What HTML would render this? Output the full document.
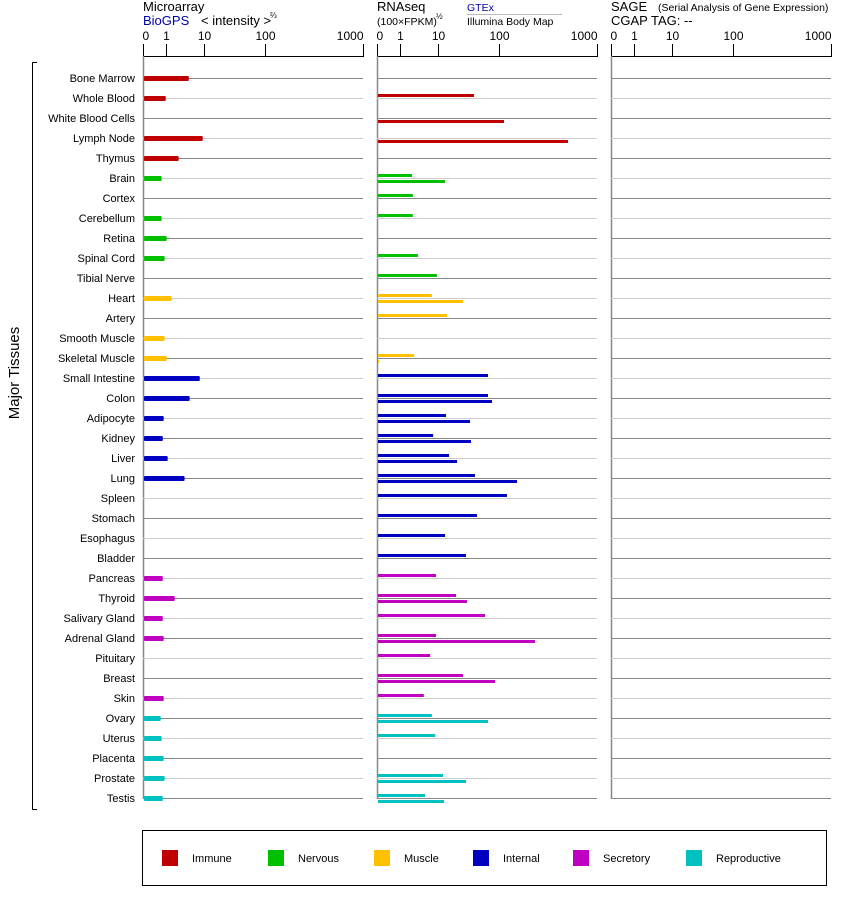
<!DOCTYPE html>
<html><head><meta charset="utf-8"><style>
body{margin:0;background:#fff;}
svg{display:block;font-family:"Liberation Sans",Arial,sans-serif;}
</style></head><body>
<svg id="chart" width="842" height="900" viewBox="0 0 842 900">
<g id="hdr">
<text x="143" y="11" font-size="13">Microarray</text>
<text x="143" y="25" font-size="13" fill="#0000aa">BioGPS</text>
<text x="201" y="25" font-size="13">&lt; intensity &gt;</text>
<text x="270" y="18" font-size="8">⅔</text>
<text x="377" y="11" font-size="13">RNAseq</text>
<text x="377" y="25" font-size="10.5">(100×FPKM)</text>
<text x="436" y="19" font-size="8">½</text>
<text x="467" y="11" font-size="10.5" fill="#0000aa">GTEx</text>
<line x1="467" y1="14.5" x2="562" y2="14.5" stroke="#bbb"/>
<text x="467" y="25" font-size="10.5">Illumina Body Map</text>
<text x="611" y="11" font-size="13">SAGE</text>
<text x="658" y="11" font-size="10.5">(Serial Analysis of Gene Expression)</text>
<text x="611" y="25" font-size="13">CGAP TAG:  --</text>
</g>
<g id="axes"></g>
<g id="rows"></g>
<g id="bars"></g>
<g>
<path d="M37,62.5 H32.5 V809.5 H37" fill="none" stroke="#000"/>
<text transform="translate(19,373) rotate(-90)" font-size="15" text-anchor="middle">Major Tissues</text>
</g>
<g id="legend">
<rect x="142.5" y="830.5" width="684" height="55" fill="none" stroke="#000"/>
</g>
</svg>
<script>
const tissues=["Bone Marrow","Whole Blood","White Blood Cells","Lymph Node","Thymus","Brain","Cortex","Cerebellum","Retina","Spinal Cord","Tibial Nerve","Heart","Artery","Smooth Muscle","Skeletal Muscle","Small Intestine","Colon","Adipocyte","Kidney","Liver","Lung","Spleen","Stomach","Esophagus","Bladder","Pancreas","Thyroid","Salivary Gland","Adrenal Gland","Pituitary","Breast","Skin","Ovary","Uterus","Placenta","Prostate","Testis"];
const groups=["Immune","Immune","Immune","Immune","Immune","Nervous","Nervous","Nervous","Nervous","Nervous","Nervous","Muscle","Muscle","Muscle","Muscle","Internal","Internal","Internal","Internal","Internal","Internal","Internal","Internal","Internal","Internal","Secretory","Secretory","Secretory","Secretory","Secretory","Secretory","Secretory","Reproductive","Reproductive","Reproductive","Reproductive","Reproductive"];
const microarray=[6.4,0.99,null,9.7,4.0,0.81,null,0.81,1.17,0.94,null,2.35,null,0.94,1.17,9.0,6.6,0.9,0.86,1.4,5.4,null,null,null,null,0.86,3.06,0.86,0.9,null,null,0.9,0.77,0.81,0.9,0.94,0.86];
const gtex=[null,61.6,null,null,null,3.6,3.8,3.8,null,5.0,9.5,8.3,21.8,null,4.1,82.3,82.3,20.3,8.6,24.8,63.1,164,66,18.9,49.8,9.3,35.1,77.9,9.3,7.9,45.4,6.4,8.3,9.1,null,15.9,6.7];
const illumina=[null,null,137,724,null,18.9,null,null,null,null,null,45.4,null,null,0.05,null,88.2,55.7,57.2,36.6,256,null,null,null,null,null,51.3,null,421,null,92.6,null,82.3,null,null,49.8,17.4];
const tickValues=[0,1,10,100,1000];
const tickLabels=["0","1","10","100","1000"];
const legendGroups=["Immune","Nervous","Muscle","Internal","Secretory","Reproductive"];

const colors={Immune:"#c00000",Nervous:"#00c000",Muscle:"#ffc000",Internal:"#0000c0",Secretory:"#c000c0",Reproductive:"#00c0c0"};
const NS="http://www.w3.org/2000/svg";
const tickPx=[0,23,61,122,220];
function xScale(v){
  if(v<=0)return 0;
  for(let i=1;i<tickValues.length;i++){
    if(v<=tickValues[i]){const a=tickValues[i-1],b=tickValues[i];return tickPx[i-1]+(v-a)/(b-a)*(tickPx[i]-tickPx[i-1]);}
  }
  return tickPx[tickPx.length-1];
}
function yRow(i){return 78+i*20;}
function mk(tag,attrs,parent){const e=document.createElementNS(NS,tag);for(const k in attrs)e.setAttribute(k,attrs[k]);parent.appendChild(e);return e;}
const panels=[{x0:143,name:"microarray"},{x0:377,name:"rnaseq"},{x0:611,name:"sage"}];
const axes=document.getElementById("axes"),rows=document.getElementById("rows"),bars=document.getElementById("bars");
panels.forEach(p=>{
  const ax=mk("line",{x1:p.x0+xScale(0),y1:56.5,x2:p.x0+xScale(1000)+1,y2:56.5,stroke:"#000"},axes);
  
  
  tickValues.forEach((v,i)=>{
    const x=Math.round(p.x0+xScale(v))+0.5;
    const t=mk("line",{x1:x,y1:44,x2:x,y2:57,stroke:"#000"},axes);
    
    
    const lb=mk("text",{x:i==0?x-1:x,y:40,"font-size":"12","text-anchor":i==0?"start":(i==4?"end":"middle")},axes);
    lb.textContent=tickLabels[i];
    
    
  });
  tissues.forEach((t,i)=>{
    const y=yRow(i)+0.5;
    const l=mk("line",{x1:p.x0,y1:y,x2:p.x0+220,y2:y,stroke:i%2==0?"#888":"#ccc"},rows);
    
    
  });
  const v=mk("line",{x1:p.x0+0.5,y1:56,x2:p.x0+0.5,y2:799,stroke:"#888","stroke-width":1.5},axes);
  
  
});
tissues.forEach((t,i)=>{
  const y=yRow(i);
  const lb=mk("text",{x:135,y:y+4,"font-size":"11","text-anchor":"end"},rows);
  lb.textContent=t;
  
  
  const c=colors[groups[i]];
  if(microarray[i]!=null){
    const w=xScale(microarray[i]);
    const b=mk("rect",{x:144,y:y-2,width:w-1,height:5,fill:c,rx:1},bars);
    
    
  }
  if(gtex[i]!=null){
    const b=mk("rect",{x:378,y:y-4,width:Math.max(1,xScale(gtex[i])),height:3,fill:c},bars);
    
    
  }
  if(illumina[i]!=null){
    const b=mk("rect",{x:378,y:y+2,width:Math.max(1,xScale(illumina[i])),height:3,fill:c},bars);
    
    
  }
});
const leg=document.getElementById("legend");
const legX=[162,268,374,473,573,686];
legendGroups.forEach((g,i)=>{
  const s=mk("rect",{x:legX[i],y:850,width:16,height:16,fill:colors[g]},leg);
  
  
  const t=mk("text",{x:legX[i]+30,y:862,"font-size":"11"},leg);
  t.textContent=g;
  
  
});
</script>
</body></html>
